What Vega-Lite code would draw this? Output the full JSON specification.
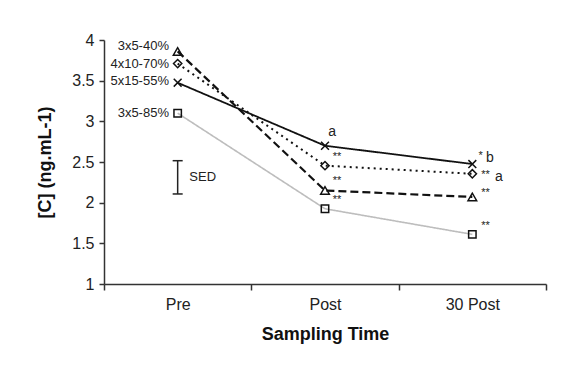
{
  "$schema": "https://vega.github.io/schema/vega-lite/v6.json",
  "width": 442,
  "height": 244,
  "autosize": "none",
  "padding": {"left": 104, "top": 40, "right": 27, "bottom": 83},
  "background": "white",
  "config": {
    "view": {"stroke": null},
    "font": "Liberation Sans",
    "axis": {
      "grid": false,
      "tickWidth": 1.5,
      "tickColor": "#333",
      "domainColor": "#333",
      "domainWidth": 1.5,
      "labelFontSize": 16,
      "labelColor": "#222",
      "labelPadding": 5,
      "titleFontSize": 18,
      "titleFontWeight": "bold",
      "titleColor": "#111"
    }
  },
  "datasets": {
    "series": [
      {"group": "3x5-40%", "t": 0, "v": 3.86},
      {"group": "3x5-40%", "t": 1, "v": 2.15},
      {"group": "3x5-40%", "t": 2, "v": 2.07},
      {"group": "4x10-70%", "t": 0, "v": 3.71},
      {"group": "4x10-70%", "t": 1, "v": 2.455},
      {"group": "4x10-70%", "t": 2, "v": 2.355},
      {"group": "5x15-55%", "t": 0, "v": 3.475},
      {"group": "5x15-55%", "t": 1, "v": 2.7},
      {"group": "5x15-55%", "t": 2, "v": 2.475},
      {"group": "3x5-85%", "t": 0, "v": 3.1},
      {"group": "3x5-85%", "t": 1, "v": 1.925},
      {"group": "3x5-85%", "t": 2, "v": 1.61}
    ],
    "labels": [
      {"label": "3x5-40%", "t": -0.059, "v": 3.93},
      {"label": "4x10-70%", "t": -0.059, "v": 3.71},
      {"label": "5x15-55%", "t": -0.059, "v": 3.49},
      {"label": "3x5-85%", "t": -0.059, "v": 3.1}
    ],
    "stars": [
      {"label": "**", "t": 1.081, "v": 2.6},
      {"label": "**", "t": 1.081, "v": 2.3},
      {"label": "**", "t": 1.081, "v": 2.07},
      {"label": "*", "t": 2.056, "v": 2.61},
      {"label": "**", "t": 2.09, "v": 2.38},
      {"label": "**", "t": 2.09, "v": 2.15},
      {"label": "**", "t": 2.09, "v": 1.75}
    ],
    "letters": [
      {"label": "a", "t": 1.048, "v": 2.865},
      {"label": "b", "t": 2.119, "v": 2.545},
      {"label": "a", "t": 2.181, "v": 2.32}
    ],
    "sedbar": [
      {"t": 0, "t2": 0, "v": 2.107, "v2": 2.516},
      {"t": -0.034, "t2": 0.034, "v": 2.107, "v2": 2.107},
      {"t": -0.034, "t2": 0.034, "v": 2.516, "v2": 2.516}
    ],
    "sedtext": [{"label": "SED", "t": 0.079, "v": 2.32}]
  },
  "encoding": {
    "x": {
      "field": "t",
      "type": "quantitative",
      "scale": {"domain": [-0.5, 2.5], "nice": false, "zero": false},
      "axis": {
        "title": "Sampling Time",
        "values": [-0.5, 0, 0.5, 1, 1.5, 2, 2.5],
        "labelExpr": "datum.value == 0 ? 'Pre' : datum.value == 1 ? 'Post' : datum.value == 2 ? '30 Post' : ''",
        "tickOpacity": {"condition": {"test": "datum.value == 0 || datum.value == 1 || datum.value == 2", "value": 0}, "value": 1},
        "labelOverlap": false,
        "labelFlush": false,
        "tickSize": 6,
        "labelPadding": 6,
        "titlePadding": 13
      }
    },
    "y": {
      "field": "v",
      "type": "quantitative",
      "scale": {"domain": [1, 4], "nice": false, "zero": false},
      "axis": {
        "title": "[C] (ng.mL-1)",
        "values": [1, 1.5, 2, 2.5, 3, 3.5, 4],
        "format": "~g",
        "tickSize": 5,
        "titlePadding": 17
      }
    }
  },
  "layer": [
    {
      "data": {"name": "series"},
      "mark": {"type": "line"},
      "encoding": {
        "detail": {"field": "group"},
        "color": {
          "field": "group",
          "scale": {"domain": ["3x5-40%", "4x10-70%", "5x15-55%", "3x5-85%"], "range": ["#111111", "#111111", "#111111", "#bdbdbd"]},
          "legend": null
        },
        "strokeDash": {
          "field": "group",
          "scale": {"domain": ["3x5-40%", "4x10-70%", "5x15-55%", "3x5-85%"], "range": [[8, 4], [2, 4], [1, 0], [1, 0]]},
          "legend": null
        },
        "strokeWidth": {
          "field": "group",
          "scale": {"domain": ["3x5-40%", "4x10-70%", "5x15-55%", "3x5-85%"], "range": [2.2, 1.6, 1.4, 2]},
          "legend": null
        }
      }
    },
    {
      "data": {"name": "series"},
      "mark": {"type": "point", "filled": false, "color": "#111", "strokeWidth": 1.5, "opacity": 1},
      "encoding": {
        "shape": {
          "field": "group",
          "scale": {"domain": ["3x5-40%", "4x10-70%", "5x15-55%", "3x5-85%"], "range": ["triangle-up", "diamond", "M-1,-1L1,1M-1,1L1,-1", "square"]},
          "legend": null
        },
        "size": {
          "field": "group",
          "scale": {"domain": ["3x5-40%", "4x10-70%", "5x15-55%", "3x5-85%"], "range": [75, 55, 64, 60]},
          "legend": null
        }
      }
    },
    {
      "data": {"name": "labels"},
      "mark": {"type": "text", "align": "right", "baseline": "middle", "fontSize": 13, "color": "#222"},
      "encoding": {"text": {"field": "label"}}
    },
    {
      "data": {"name": "stars"},
      "mark": {"type": "text", "align": "center", "baseline": "alphabetic", "dy": 6, "fontSize": 11, "color": "#222"},
      "encoding": {"text": {"field": "label"}}
    },
    {
      "data": {"name": "letters"},
      "mark": {"type": "text", "align": "center", "baseline": "alphabetic", "dy": 4, "fontSize": 14, "color": "#222"},
      "encoding": {"text": {"field": "label"}}
    },
    {
      "data": {"name": "sedbar"},
      "mark": {"type": "rule", "color": "#222", "strokeWidth": 1.5},
      "encoding": {"x2": {"field": "t2"}, "y2": {"field": "v2"}}
    },
    {
      "data": {"name": "sedtext"},
      "mark": {"type": "text", "align": "left", "baseline": "middle", "fontSize": 13, "color": "#222"},
      "encoding": {"text": {"field": "label"}}
    }
  ]
}
